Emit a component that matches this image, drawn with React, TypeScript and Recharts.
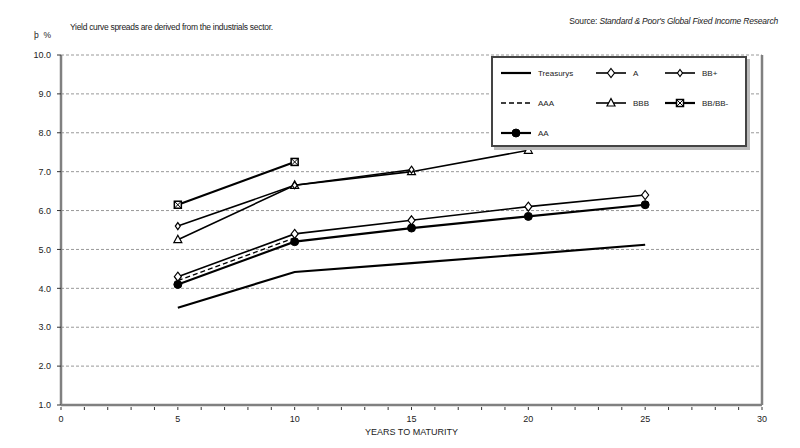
import { CartesianGrid, Line, LineChart, ReferenceLine, XAxis, YAxis } from "recharts";

// years on the x axis where each rating has a reading
const YEARS = [5, 10, 15, 20, 25];

const treasurys = [3.5, 4.42, 4.65, 4.88, 5.12];
const ratingA = [4.3, 5.4, 5.75, 6.1, 6.4];
const ratingAA = [4.1, 5.2, 5.55, 5.85, 6.15];
const ratingAAA = [4.2, 5.3];
const ratingBBB = [5.25, 6.65, 7.0, 7.55];
const ratingBBplus = [5.6, 6.65, 7.05];
const ratingBB = [6.15, 7.25];

const X_TICKS = Array.from({ length: 31 }, (_, i) => i);
const Y_TICKS = [1, 2, 3, 4, 5, 6, 7, 8, 9, 10];

const toPoints = (vals: number[]) => vals.map((v, i) => ({ year: YEARS[i], v }));

const FONT = "'Liberation Sans', Arial, sans-serif";

type Marker = "none" | "diamond" | "smallDiamond" | "circle" | "triangle" | "square";

function drawMarker(kind: Marker, cx: number, cy: number, key?: string) {
  switch (kind) {
    case "diamond":
      return (
        <polygon key={key} points={`${cx},${cy - 4.5} ${cx + 3.5},${cy} ${cx},${cy + 4.5} ${cx - 3.5},${cy}`}
          fill="#fff" stroke="#000" strokeWidth={1.2} />
      );
    case "smallDiamond":
      return (
        <polygon key={key} points={`${cx},${cy - 3.5} ${cx + 2.5},${cy} ${cx},${cy + 3.5} ${cx - 2.5},${cy}`}
          fill="#fff" stroke="#000" strokeWidth={1.2} />
      );
    case "circle":
      return <circle key={key} cx={cx} cy={cy} r={4} fill="#000" stroke="#000" />;
    case "triangle":
      return (
        <polygon key={key} points={`${cx},${cy - 4.5} ${cx + 4},${cy + 3} ${cx - 4},${cy + 3}`}
          fill="#fff" stroke="#000" strokeWidth={1.2} />
      );
    case "square":
      return (
        <g key={key}>
          <rect x={cx - 3.5} y={cy - 3.5} width={7} height={7} fill="#fff" stroke="#000" strokeWidth={1.5} />
          <line x1={cx - 3.5} y1={cy - 3.5} x2={cx + 3.5} y2={cy + 3.5} stroke="#000" strokeWidth={1} />
          <line x1={cx + 3.5} y1={cy - 3.5} x2={cx - 3.5} y2={cy + 3.5} stroke="#000" strokeWidth={1} />
        </g>
      );
    default:
      return <g key={key} />;
  }
}

type Series = {
  name: string;
  values: number[];
  marker: Marker;
  width: number;
  dash?: string;
};

const SERIES: Series[] = [
  { name: "Treasurys", values: treasurys, marker: "none", width: 2.2 },
  { name: "AAA", values: ratingAAA, marker: "none", width: 1.3, dash: "5 3" },
  { name: "AA", values: ratingAA, marker: "circle", width: 2.2 },
  { name: "A", values: ratingA, marker: "diamond", width: 1.6 },
  { name: "BBB", values: ratingBBB, marker: "triangle", width: 1.6 },
  { name: "BB+", values: ratingBBplus, marker: "smallDiamond", width: 1.6 },
  { name: "BB/BB-", values: ratingBB, marker: "square", width: 2.2 },
];

// legend columns as laid out in the original box
const LEGEND_COLS = [
  ["Treasurys", "AAA", "AA"],
  ["A", "BBB"],
  ["BB+", "BB/BB-"],
];
const LEGEND_COL_X = [8, 103, 172];

function LegendBox() {
  return (
    <div
      style={{
        position: "absolute",
        left: 491,
        top: 56,
        width: 252,
        height: 87,
        border: "2px solid #444",
        background: "#fff",
        boxShadow: "3px 3px 0 #bbb",
      }}
    >
      <svg width={252} height={87} style={{ position: "absolute", left: 0, top: 0 }}>
        {LEGEND_COLS.map((col, ci) =>
          col.map((name, ri) => {
            const s = SERIES.find((x) => x.name === name)!;
            const x0 = LEGEND_COL_X[ci];
            const y = 15 + ri * 30;
            return (
              <g key={name}>
                <line x1={x0} x2={x0 + 30} y1={y} y2={y} stroke="#000" strokeWidth={s.width} strokeDasharray={s.dash} />
                {drawMarker(s.marker, x0 + 15, y)}
                <text x={x0 + 37} y={y + 3} fontSize={8} fontFamily={FONT} fill="#222">
                  {name}
                </text>
              </g>
            );
          })
        )}
      </svg>
    </div>
  );
}

const XTick = (props: any) => {
  const { x, y, payload } = props;
  const v = payload.value as number;
  return (
    <g>
      <line x1={x} x2={x} y1={y} y2={y + 3} stroke="#333" strokeWidth={1} />
      {v % 5 === 0 && (
        <text x={x} y={y + 15} textAnchor="middle" fontSize={9} fontFamily={FONT} fill="#222">
          {v}
        </text>
      )}
    </g>
  );
};

export default function App() {
  return (
    <div style={{ position: "absolute", left: 0, top: 0, width: 800, height: 448, background: "#fff", fontFamily: FONT }}>
      <div style={{ position: "absolute", left: 70, top: 22, fontSize: 8.5, color: "#222", letterSpacing: -0.3 }}>
        Yield curve spreads are derived from the industrials sector.
      </div>
      <div style={{ position: "absolute", left: 34, top: 30, fontSize: 8.5, color: "#222" }}>þ&nbsp;&nbsp;%</div>
      <div style={{ position: "absolute", right: 22, top: 16, fontSize: 8.5, color: "#222", letterSpacing: -0.2 }}>
        Source: <i>Standard &amp; Poor's Global Fixed Income Research</i>
      </div>
      <LineChart width={800} height={448} margin={{ top: 55, right: 38, left: 21, bottom: 13 }}>
        <CartesianGrid horizontal vertical={false} stroke="#999" strokeDasharray="3 2" />
        <XAxis
          type="number"
          dataKey="year"
          domain={[0, 30]}
          ticks={X_TICKS}
          interval={0}
          tick={<XTick />}
          tickLine={false}
          tickSize={0}
          height={30}
          stroke="#808080"
          strokeWidth={2.5}
          allowDuplicatedCategory={false}
          label={{
            value: "YEARS TO MATURITY",
            position: "insideBottom",
            offset: 0,
            style: { fontSize: 9, fontFamily: FONT, fill: "#222" },
          }}
        />
        <YAxis
          type="number"
          domain={[1, 10]}
          ticks={Y_TICKS}
          interval={0}
          width={40}
          stroke="#808080"
          strokeWidth={2.5}
          tickSize={4}
          tickLine={{ stroke: "#333", strokeWidth: 1 }}
          tickMargin={6}
          tickFormatter={(v: number) => v.toFixed(1)}
          tick={{ fontSize: 9, fontFamily: FONT, fill: "#222" }}
        />
        <ReferenceLine x={30} stroke="#808080" strokeWidth={2.5} />
        {SERIES.map((s) => (
          <Line
            key={s.name}
            data={toPoints(s.values)}
            dataKey="v"
            name={s.name}
            type="linear"
            stroke="#000"
            strokeWidth={s.width}
            strokeDasharray={s.dash}
            isAnimationActive={false}
            activeDot={false}
            dot={(p: any) => drawMarker(s.marker, p.cx, p.cy, `${s.name}-${p.index}`)}
          />
        ))}
      </LineChart>
      <LegendBox />
    </div>
  );
}
